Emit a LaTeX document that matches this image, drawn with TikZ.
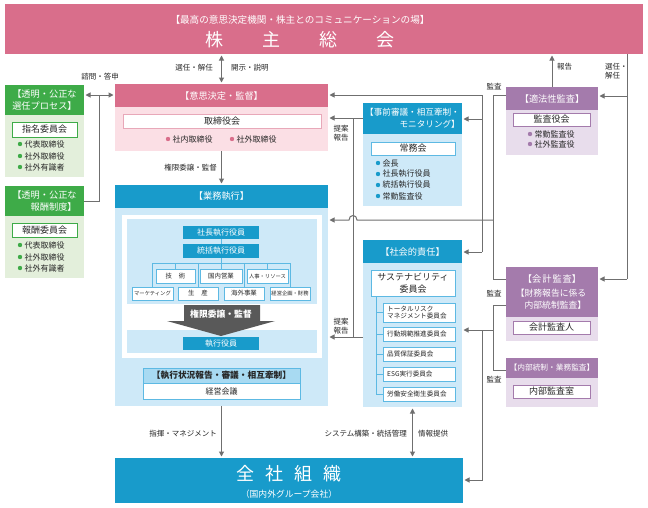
\documentclass[tikz,border=0pt]{standalone}
\usepackage{fontspec}
\setmainfont{Noto Sans CJK JP}
\usetikzlibrary{arrows.meta}
\definecolor{pinkH}{HTML}{D96E8B}
\definecolor{pinkL}{HTML}{FBDFE5}
\definecolor{greenH}{HTML}{3EAB48}
\definecolor{greenL}{HTML}{E3EFDB}
\definecolor{blueH}{HTML}{189BCB}
\definecolor{blueL}{HTML}{CEE9F8}
\definecolor{blueM}{HTML}{5DB9E3}
\definecolor{blueHL}{HTML}{A8DAF2}
\definecolor{purpH}{HTML}{A47BAC}
\definecolor{purpL}{HTML}{E8DDEC}
\definecolor{lineC}{HTML}{6F6F6F}
\definecolor{darkA}{HTML}{595959}
\definecolor{txt}{HTML}{262626}
\newcommand\rbox[6]{\node[#6,anchor=north west,inner sep=0pt,outer sep=0pt,minimum width={(#4-#2)*1pt},minimum height={(#5-#3)*1pt}] (#1) at (#2,#3) {};}
\newcommand\bul[5]{\node[dotn,fill=#4] (#1d) at (#2,#3) {};\node[btxt] (#1) at ({#2+4.5},#3) {#5};}
\begin{document}
\begin{tikzpicture}[x=1pt,y=-1pt,
 conn/.style={draw=lineC,line width=1pt},
 arr/.style={conn,-{Triangle[length=5pt,width=5pt]},shorten >=1.5pt},
 darr/.style={conn,{Triangle[length=5pt,width=5pt]}-{Triangle[length=5pt,width=5pt]},shorten >=1.5pt,shorten <=1.5pt},
 tree/.style={draw=blueM,line width=0.8pt},
 lbl/.style={font=\fontsize{7.5}{9.5}\selectfont,text=txt,inner sep=0pt,align=left},
 htxt/.style={font=\fontsize{9.2}{12}\selectfont,text=white,inner sep=0pt},
 wtxt/.style={font=\fontsize{9}{10}\selectfont,text=txt,inner sep=0pt},
 btxt/.style={font=\fontsize{8}{9}\selectfont,text=txt,inner sep=0pt,anchor=west},
 dotn/.style={circle,inner sep=0pt,minimum size=4.4pt},
 stxt/.style={font=\fontsize{6.4}{7}\selectfont,text=txt,inner sep=0pt},
 sstxt/.style={font=\fontsize{5.3}{6}\selectfont,text=txt,inner sep=0pt},
 etxt/.style={font=\fontsize{8}{9}\selectfont,text=white,inner sep=0pt},
 sbox/.style={fill=white,draw=blueM,line width=0.8pt},
]
\useasboundingbox (0,0) rectangle (648,507);
\fill[white] (0,0) rectangle (648,507);

% ---------- banner
\rbox{gm}{5}{4}{643}{54}{fill=pinkH}
\node[font=\fontsize{9.6}{11}\selectfont,text=white,inner sep=0pt] (gmT) at (300,20) {【最高の意思決定機関・株主とのコミュニケーションの場】};
\node[font=\fontsize{18}{20}\selectfont,text=white,inner sep=0pt] (gmN) at (300,40) {株\hspace{39pt}主\hspace{39pt}総\hspace{39pt}会};

% ---------- green boxes
\rbox{g1H}{5}{85}{84}{115}{fill=greenH}
\rbox{g1B}{5}{115}{84}{177}{fill=greenL}
\node[htxt,align=right] (g1T) at (g1H) {【透明・公正な\\選任プロセス】};
\rbox{g1W}{12}{122}{77}{137}{fill=white,draw=greenH,line width=0.7pt}
\node[wtxt] (g1Wt) at (g1W) {指名委員会};
\bul{g1a}{20}{144}{greenH}{代表取締役}
\bul{g1b}{20}{156}{greenH}{社外取締役}
\bul{g1c}{20}{167}{greenH}{社外有識者}

\rbox{g2H}{5}{186}{84}{216}{fill=greenH}
\rbox{g2B}{5}{216}{84}{278}{fill=greenL}
\node[htxt,align=right] (g2T) at (g2H) {【透明・公正な\\報酬制度】};
\rbox{g2W}{12}{223}{77}{237}{fill=white,draw=greenH,line width=0.7pt}
\node[wtxt] (g2Wt) at (g2W) {報酬委員会};
\bul{g2a}{20}{245}{greenH}{代表取締役}
\bul{g2b}{20}{257}{greenH}{社外取締役}
\bul{g2c}{20}{268}{greenH}{社外有識者}

% ---------- board
\rbox{bdH}{115}{84}{328}{107}{fill=pinkH}
\rbox{bdB}{115}{107}{328}{151}{fill=pinkL}
\node[htxt] (bdT) at (bdH) {【意思決定・監督】};
\rbox{bdW}{123}{114}{321}{128}{fill=white,draw=pinkH!60,line width=0.7pt}
\node[wtxt] (bdWt) at (bdW) {取締役会};
\bul{bda}{168}{139}{pinkH}{社内取締役}
\bul{bdb}{232}{139}{pinkH}{社外取締役}

% ---------- execution
\rbox{exH}{115}{185}{328}{208}{fill=blueH}
\rbox{exB}{115}{208}{328}{406}{fill=blueL}
\node[htxt] (exT) at (exH) {【業務執行】};
\rbox{exF}{122}{215}{322}{358}{fill=white}
\rbox{exP1}{127}{219}{317}{304}{fill=blueL}
\rbox{exP2}{127}{330}{317}{353}{fill=blueL}
\rbox{e1}{183}{226}{259}{239}{fill=blueH}
\node[etxt] (e1t) at (e1) {社長執行役員};
\rbox{e2}{183}{244}{259}{258}{fill=blueH}
\node[etxt] (e2t) at (e2) {統括執行役員};
\rbox{r1a}{156}{269}{195}{283}{sbox}
\rbox{r1b}{200}{269}{242}{283}{sbox}
\rbox{r1c}{247}{269}{288}{283}{sbox}
\rbox{r2a}{132}{287}{173}{300}{sbox}
\rbox{r2b}{178}{287}{218}{300}{sbox}
\rbox{r2c}{224}{287}{264}{300}{sbox}
\rbox{r2d}{270}{287}{310}{300}{sbox}
\node[stxt] (r1at) at (r1a) {技\hspace{7pt}術};
\node[stxt] (r1bt) at (r1b) {国内営業};
\node[sstxt] (r1ct) at (r1c) {人事・リソース};
\node[sstxt] (r2at) at (r2a) {マーケティング};
\node[stxt] (r2bt) at (r2b) {生\hspace{7pt}産};
\node[stxt] (r2ct) at (r2c) {海外事業};
\node[sstxt] (r2dt) at (r2d) {経営企画・財務};
\coordinate (tr) at (221,263);
\draw[tree] (e1.south) -- (e2.north);
\draw[tree] (e2.south) -- (r1b.north);
\draw[tree] (r2a.north |- tr) -- (r2d.north |- tr);
\foreach \b in {r1a,r1c,r2a,r2b,r2c,r2d}{\draw[tree] (\b.north |- tr) -- (\b.north);}
\fill[darkA] (184,305) -- (260,305) -- (260,321) -- (275,321) -- (221,336) -- (167,321) -- (184,321) -- cycle;
\node[font=\bfseries\fontsize{8.8}{10}\selectfont,text=white,inner sep=0pt] (bigT) at (221,314) {権限委譲・監督};
\rbox{e3}{183}{337}{259}{350}{fill=blueH}
\node[etxt] (e3t) at (e3) {執行役員};
\rbox{kmH}{143}{368}{300}{383}{fill=blueHL,draw=blueM,line width=0.8pt}
\rbox{kmB}{143}{383}{300}{399}{fill=white,draw=blueM,line width=0.8pt}
\node[font=\bfseries\fontsize{8.7}{10}\selectfont,text=txt,inner sep=0pt] (kmHt) at (kmH) {【執行状況報告・審議・相互牽制】};
\node[wtxt,font=\fontsize{8}{9}\selectfont] (kmBt) at (kmB) {経営会議};

% ---------- whole organisation
\rbox{zs}{115}{458}{463}{503}{fill=blueH}
\node[font=\fontsize{18}{20}\selectfont,text=white,inner sep=0pt] (zsT) at (289,474) {全\hspace{11pt}社\hspace{11pt}組\hspace{11pt}織};
\node[font=\fontsize{8.8}{10}\selectfont,text=white,inner sep=0pt] (zsS) at (289,494) {（国内外グループ会社）};

% ---------- pre-deliberation
\rbox{jzH}{363}{103}{462}{134}{fill=blueH}
\rbox{jzB}{363}{134}{462}{206}{fill=blueL}
\node[htxt,font=\fontsize{8.6}{12}\selectfont,align=right] (jzT) at (jzH) {【事前審議・相互牽制・\\モニタリング】};
\rbox{jzW}{371}{142}{455}{155}{fill=white,draw=blueM,line width=0.8pt}
\node[wtxt] (jzWt) at (jzW) {常務会};
\bul{jza}{378}{163}{blueH}{会長}
\bul{jzb}{378}{174}{blueH}{社長執行役員}
\bul{jzc}{378}{185}{blueH}{統括執行役員}
\bul{jzd}{378}{196}{blueH}{常勤監査役}

% ---------- social responsibility
\rbox{srH}{363}{240}{462}{263}{fill=blueH}
\rbox{srB}{363}{263}{462}{407}{fill=blueL}
\node[htxt] (srT) at (srH) {【社会的責任】};
\rbox{srW}{371}{270}{455}{296}{fill=white,draw=blueM,line width=0.8pt}
\node[wtxt,align=center,font=\fontsize{9}{11.5}\selectfont] (srWt) at (srW) {サステナビリティ\\委員会};
\rbox{s1}{383}{303}{455}{322}{sbox}
\rbox{s2}{383}{327}{455}{341}{sbox}
\rbox{s3}{383}{347}{455}{361}{sbox}
\rbox{s4}{383}{367}{455}{381}{sbox}
\rbox{s5}{383}{387}{455}{401}{sbox}
\node[stxt,font=\fontsize{6.6}{7.5}\selectfont,align=left,anchor=west] (s1t) at (387,312.5) {トータルリスク\\マネジメント委員会};
\node[stxt,font=\fontsize{6.6}{7.5}\selectfont,anchor=west] (s2t) at (387,334) {行動規範推進委員会};
\node[stxt,font=\fontsize{6.6}{7.5}\selectfont,anchor=west] (s3t) at (387,354) {品質保証委員会};
\node[stxt,font=\fontsize{6.6}{7.5}\selectfont,anchor=west] (s4t) at (387,374) {ESG実行委員会};
\node[stxt,font=\fontsize{6.6}{7.5}\selectfont,anchor=west] (s5t) at (387,394) {労働安全衛生委員会};
\coordinate (stTop) at (376,296);
\draw[tree] (stTop) -- (stTop |- s5.west);
\foreach \b in {s1,s2,s3,s4,s5}{\draw[tree] (stTop |- \b.west) -- (\b.west);}

% ---------- audit boxes
\rbox{tkH}{506}{87}{598}{110}{fill=purpH}
\rbox{tkB}{506}{110}{598}{155}{fill=purpL}
\node[htxt] (tkT) at (tkH) {【適法性監査】};
\rbox{tkW}{513}{113}{590}{126}{fill=white,draw=purpH,line width=0.7pt}
\node[wtxt] (tkWt) at (tkW) {監査役会};
\bul{tka}{530}{134}{purpH}{常勤監査役}
\bul{tkb}{530}{144}{purpH}{社外監査役}

\rbox{kkH}{506}{267}{598}{317}{fill=purpH}
\rbox{kkB}{506}{317}{598}{341}{fill=purpL}
\node[htxt] (kkT1) at (552,279) {【会\hspace{1pt}計\hspace{1pt}監\hspace{1pt}査】};
\node[htxt,font=\fontsize{8.8}{12}\selectfont,align=right] (kkT2) at (551,299.5) {【財務報告に係る\\内部統制監査】};
\rbox{kkW}{513}{321}{590}{334}{fill=white,draw=purpH,line width=0.7pt}
\node[wtxt] (kkWt) at (kkW) {会計監査人};

\rbox{nbH}{506}{358}{598}{378}{fill=purpH}
\rbox{nbB}{506}{378}{598}{407}{fill=purpL}
\node[htxt,font=\fontsize{7.7}{9}\selectfont] (nbT) at (nbH) {【内部統制・業務監査】};
\rbox{nbW}{513}{385}{590}{398}{fill=white,draw=purpH,line width=0.7pt}
\node[wtxt] (nbWt) at (nbW) {内部監査室};

% ---------- connectors
\draw[darr] (gm.south -| bdH.north) -- (bdH.north);
\node[lbl,anchor=east] (lSel) at (213,68) {選任・解任};
\node[lbl,anchor=west] (lKai) at (231,68) {開示・説明};
\coordinate (jg) at (99,95);
\draw[darr] (g1H.east |- jg) -- (bdH.west |- jg);
\draw[conn] (g2H.east) -| (jg);
\node[lbl] (lShi) at (100,77) {諮問・答申};
\draw[arr] (bdB.south) -- (exH.north);
\node[lbl,anchor=east] (lKen) at (217,168) {権限委譲・監督};
\draw[arr] (exB.south) -- (zs.north -| exB.south);
\node[lbl,anchor=east] (lShk) at (217,434) {指揮・マネジメント};
\draw[darr] (srB.south) -- (srB.south |- zs.north);
\node[lbl,anchor=east] (lSys) at (407,434) {システム構築・統括管理};
\node[lbl,anchor=west] (lJoh) at (418,434) {情報提供};
\coordinate (pT) at (353,118);
\coordinate (pB) at (353,337);
\draw[arr] (jzH.west |- pT) -- (pT -| bdB.east);
\draw[conn] (pT) -- (pB);
\draw[arr] (srB.west |- pB) -- (pB -| exB.east);
\node[lbl,align=center] (lTa1) at (341,133) {提案\\報告};
\node[lbl,align=center] (lTa2) at (341,326) {提案\\報告};
\draw[arr] (tkH.north) -- (tkH.north |- gm.south);
\node[lbl,anchor=west] (lHok) at (557,67) {報告};
\coordinate (rbTop) at (627,54);
\coordinate (rbA) at (627,96);
\coordinate (rbBot) at (627,279);
\draw[conn] (rbTop) -- (rbBot);
\draw[arr] (rbA) -- (rbA -| tkH.east);
\draw[arr] (rbBot) -- (rbBot -| kkH.east);
\node[lbl,anchor=west] (lSel2) at (605,71) {選任・\\解任};
\coordinate (aT) at (493,95);
\coordinate (aM) at (493,220);
\coordinate (aB) at (493,279);
\draw[conn] (aT -| tkH.west) -- (aT) -- (aB) -- (aB -| kkH.west);
\node[lbl] (lKan1) at (494,87) {監査};
\draw[arr] (aM) -- (357,220) .. controls (357,214) and (349,214) .. (349,220) -- (aM -| exB.east);
\coordinate (bT) at (482,95);
\coordinate (bM) at (482,119);
\coordinate (bB) at (482,252);
\draw[conn] (bT) -- (bB);
\draw[arr] (bT) -- (bT -| bdH.east);
\draw[arr] (bM) -- (bM -| jzH.east);
\draw[arr] (bB) -- (bB -| srH.east);
\coordinate (cT) at (493,305);
\coordinate (cM) at (493,330);
\coordinate (cB) at (493,370);
\coordinate (dM) at (482,330);
\coordinate (dB) at (482,480);
\draw[conn] (cT -| kkH.west) -- (cT) -- (cB) -- (cB -| nbH.west);
\draw[arr] (cM) -- (cM -| srB.east);
\draw[arr] (dM) -- (dB) -- (dB -| zs.east);
\node[lbl] (lKan2) at (494,294) {監査};
\node[lbl] (lKan3) at (494,380) {監査};
\end{tikzpicture}
\end{document}
